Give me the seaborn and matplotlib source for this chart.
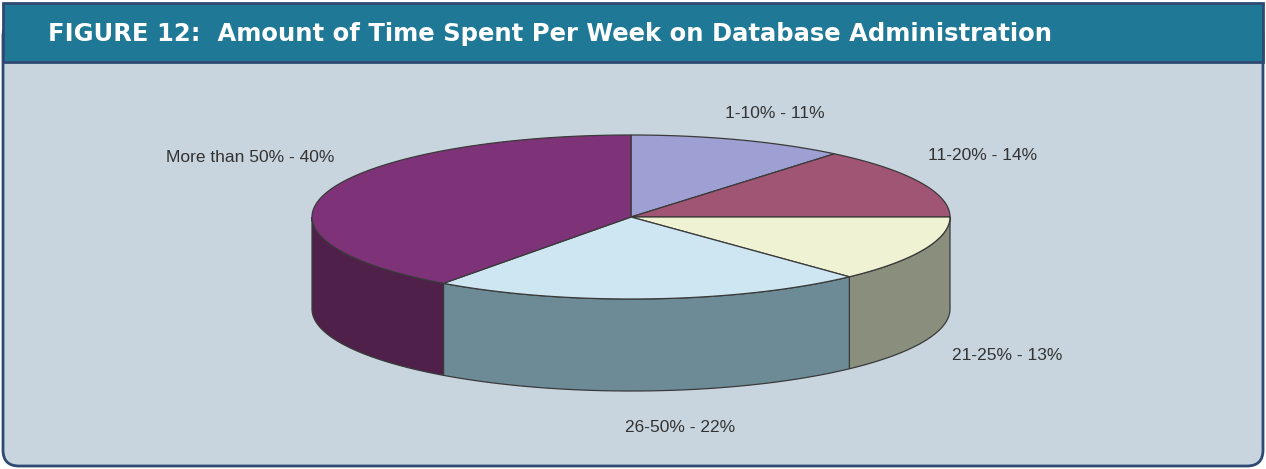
import numpy as np
import matplotlib
matplotlib.use('Agg')
import matplotlib.pyplot as plt
import seaborn as sns
from matplotlib.patches import Polygon, Rectangle, FancyBboxPatch

# ===============================
# DATA
# ===============================
categories = ['1-10%', '11-20%', '21-25%', '26-50%', 'More than 50%']
shares = [11, 14, 13, 22, 40]

title = 'FIGURE 12:  Amount of Time Spent Per Week on Database Administration'

# ===============================
# STYLE
# ===============================
sns.set_style('white')
plt.rcParams['font.family'] = ['Liberation Sans', 'DejaVu Sans']

top_colors = sns.color_palette(['#9ea0d3', '#a05574', '#f0f3d3', '#cde6f2', '#7e3278'])
side_colors = sns.color_palette(['#6f7196', '#6e3a50', '#8a8e7c', '#6d8b96', '#4f2049'])

W, H = 1266, 469
cx, cy = 631, 217      # centre of the top face
rx, ry = 319, 82       # ellipse radii
depth = 92             # thickness of the pie
edge = '#3a3a3a'

label_pos = [(775, 113), (983, 156), (1007, 356), (680, 427), (250, 157)]

fig = plt.figure(figsize=(W / 100, H / 100), dpi=100)
ax = fig.add_axes([0, 0, 1, 1])
ax.set_xlim(0, W)
ax.set_ylim(H, 0)
ax.axis('off')

# panel + banner
ax.add_patch(FancyBboxPatch((3, 20), W - 6, H - 23,
                            boxstyle='round,pad=0,rounding_size=16',
                            fc='#c8d5df', ec='#2f4a72', lw=2))
ax.add_patch(Rectangle((3, 3), W - 6, 59, fc='#1f7896', ec='#2f4a72', lw=2))
ax.text(48, 34, title, color='white', fontsize=17.5, fontweight='bold',
        family=['DejaVu Sans'], va='center', ha='left')


def ell(t_deg, dy=0):
    t = np.radians(t_deg)
    return np.column_stack([cx + rx * np.cos(t), cy - ry * np.sin(t) + dy])


# slice angles (start at 12 o'clock, clockwise)
fracs = np.array(shares) / sum(shares)
cum = np.concatenate([[0], np.cumsum(fracs)])
starts = 90 - 360 * cum[:-1]
ends = 90 - 360 * cum[1:]

# side walls (front half only: t in [-180, 0])
for s, e, col in zip(starts, ends, side_colors):
    lo, hi = e, s
    for off in (0, -360, 360):
        a, b = max(lo + off, -180), min(hi + off, 0)
        if b > a:
            tt = np.linspace(b, a, 80)
            pts = np.vstack([ell(tt), ell(tt[::-1], depth)])
            ax.add_patch(Polygon(pts, closed=True, fc=col, ec=edge, lw=0.9))

# top faces
for s, e, col in zip(starts, ends, top_colors):
    tt = np.linspace(s, e, 120)
    pts = np.vstack([[cx, cy], ell(tt)])
    ax.add_patch(Polygon(pts, closed=True, fc=col, ec=edge, lw=0.9))

# labels
for cat, val, (lx, ly) in zip(categories, shares, label_pos):
    ax.text(lx, ly, f'{cat} - {val}%', fontsize=12.5, color='#333333',
            ha='center', va='center')

fig.savefig('out.png', dpi=100)
